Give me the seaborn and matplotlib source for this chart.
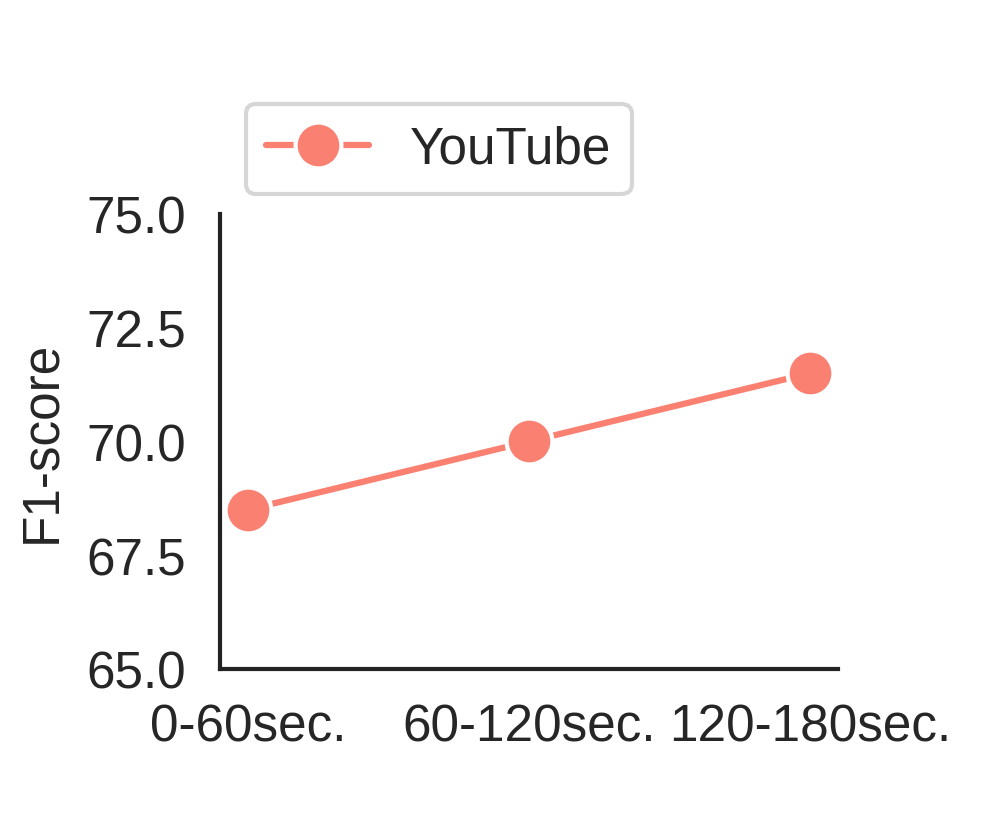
import matplotlib
matplotlib.use("Agg")
import matplotlib.pyplot as plt
import seaborn as sns
import pandas as pd

durations = ["0-60sec.", "60-120sec.", "120-180sec."]
youtube_f1 = [68.5, 70.0, 71.5]
y_ticks = [65.0, 67.5, 70.0, 72.5, 75.0]

sns.set_theme(style="white")
plt.rcParams["font.family"] = ["Liberation Sans", "DejaVu Sans"]

df = pd.DataFrame({"duration": durations, "F1": youtube_f1})

fig = plt.figure(figsize=(3.33, 2.713), dpi=300)
ax = fig.add_axes([0.220, 0.177, 0.619, 0.559])

sns.lineplot(data=df, x="duration", y="F1", ax=ax, color="salmon",
             marker="o", markersize=11, markeredgecolor="white",
             markeredgewidth=1.0, linewidth=1.5, label="YouTube")

ax.set_xlim(-0.1, 2.1)
ax.set_ylim(65, 75)
ax.set_yticks(y_ticks)
ax.set_yticklabels([f"{t:.1f}" for t in y_ticks], fontsize=12.3)
ax.set_xticks(range(len(durations)))
ax.set_xticklabels(durations, fontsize=12.3)
ax.set_xlabel("")
ax.set_ylabel("F1-score", fontsize=12.3, labelpad=5)
ax.tick_params(length=0, pad=8)
for s in ["left", "bottom"]:
    ax.spines[s].set_color("#222222")
    ax.spines[s].set_linewidth(1.0)
sns.despine(ax=ax)

ax.legend(loc="lower left", bbox_to_anchor=(0.042, 1.044), borderaxespad=0,
          fontsize=12.3, frameon=True)

fig.savefig("out.png", dpi=300)
